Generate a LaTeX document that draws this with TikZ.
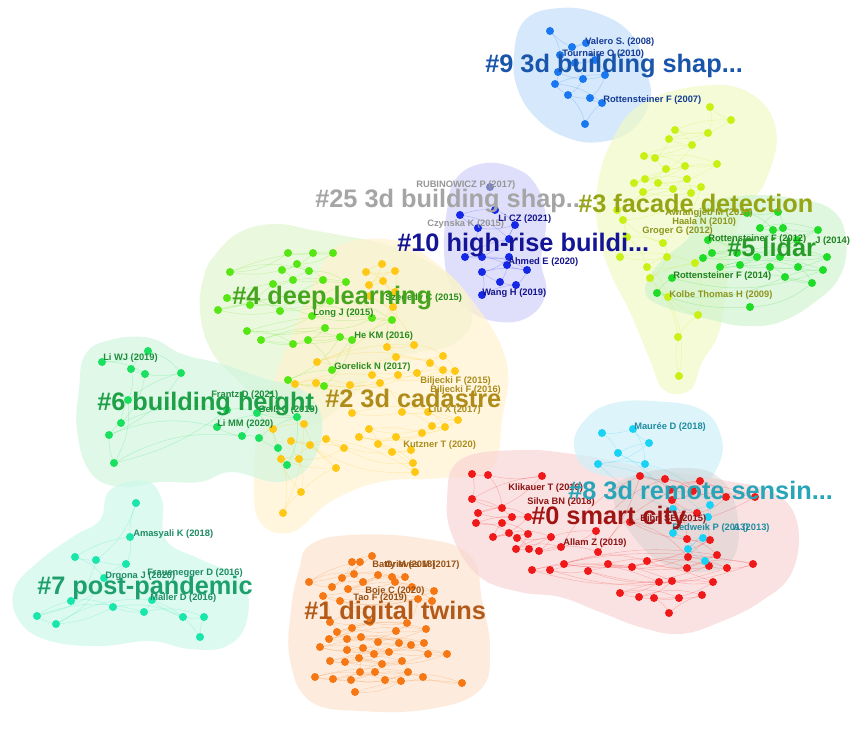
\documentclass[tikz,border=0pt]{standalone}
\usepackage{fontspec}
\setmainfont{Liberation Sans}
% dot colours
\definecolor{c9}{RGB}{25,120,240}
\definecolor{c3}{RGB}{200,240,20}
\definecolor{c5}{RGB}{30,220,40}
\definecolor{c10}{RGB}{20,40,230}
\definecolor{c4}{RGB}{85,230,20}
\definecolor{c2}{RGB}{255,200,20}
\definecolor{c6}{RGB}{25,225,95}
\definecolor{c7}{RGB}{25,230,170}
\definecolor{c1}{RGB}{245,120,20}
\definecolor{c0}{RGB}{240,25,25}
\definecolor{c8}{RGB}{25,210,245}
\definecolor{c25}{RGB}{120,130,200}
% hull colours
\definecolor{h9}{RGB}{195,222,250}
\definecolor{h3}{RGB}{240,250,195}
\definecolor{h5}{RGB}{208,243,208}
\definecolor{h10}{RGB}{208,208,250}
\definecolor{h4}{RGB}{225,245,205}
\definecolor{h2}{RGB}{255,242,205}
\definecolor{h6}{RGB}{208,245,222}
\definecolor{h7}{RGB}{205,248,234}
\definecolor{h1}{RGB}{253,228,205}
\definecolor{h0}{RGB}{250,213,213}
\definecolor{h8}{RGB}{205,240,250}
% cluster label colours
\definecolor{L9}{RGB}{25,85,170}
\definecolor{L25}{RGB}{165,165,165}
\definecolor{L3}{RGB}{150,165,20}
\definecolor{L10}{RGB}{20,20,150}
\definecolor{L5}{RGB}{40,155,40}
\definecolor{L4}{RGB}{70,165,30}
\definecolor{L2}{RGB}{175,140,25}
\definecolor{L6}{RGB}{30,160,70}
\definecolor{L8}{RGB}{40,165,185}
\definecolor{L0}{RGB}{160,20,20}
\definecolor{L7}{RGB}{30,160,110}
\definecolor{L1}{RGB}{180,90,25}
% small label colours
\definecolor{s9}{RGB}{20,60,150}
\definecolor{s25}{RGB}{150,150,150}
\definecolor{s10}{RGB}{20,20,140}
\definecolor{s3}{RGB}{140,150,30}
\definecolor{s5}{RGB}{30,130,30}
\definecolor{s4}{RGB}{40,140,30}
\definecolor{s2}{RGB}{170,140,30}
\definecolor{s6}{RGB}{30,140,60}
\definecolor{s8}{RGB}{30,140,160}
\definecolor{s0}{RGB}{140,20,20}
\definecolor{s7}{RGB}{30,140,100}
\definecolor{s1}{RGB}{150,80,20}
\tikzset{
  dot/.style={circle,inner sep=0pt,minimum size=6pt,draw=none},
  edge/.style={line width=0.35pt,opacity=0.25},
  hullfill/.style={fill opacity=0.68,draw=none},
  cl/.style={font=\bfseries\fontsize{19}{19}\selectfont,anchor=west,inner sep=0pt},
  lab/.style={font=\bfseries\fontsize{7}{7}\selectfont,anchor=west,inner sep=0pt}
}
% point lists
\def\PnineL{550/31,572/47,586/43,560/55,575/63,595/60,558/72,583/79,605/75,555/84,568/95,590/98,602/103,585/124}
\def\PthreeL{710/107,731/120,675/130,708/133,669/139,692/145,644/156,655/158,666/169,685/166,717/164,634/183,645/179,658/183,687/179,673/189,643/192,691/193,701/187,617/210,623/220,663/243,627/237,620/257,667/257,647/267,695/263,650/278,668/297,698/315,678/337,679/376}
\def\PfiveL{747/213,778/212,760/228,773/230,783/228,818/230,797/240,708/240,712/253,703/258,737/253,757/257,780/257,827/257,720/267,740/265,770/267,798/267,823/270,785/277,812/283,672/278,657/293,750/307}
\def\PtenL{495/210,460/215,478/228,515/225,509/239,465/257,482/257,509/257,507/265,527/270,482/272,500/282,516/285,482/295}
\def\PtwfL{490/187}
\def\PfourL{288/253,313/253,333/253,230/272,282/270,297/264,309/271,293/280,323/280,346/282,273/284,227/298,250/305,218/310,280/311,330/301,312/316,372/318,392/320,247/331,325/328,261/340,293/344,308/340,340/337,352/340,332/370,288/380,324/386}
\def\PtwoL{382/264,366/272,395/271,369/285,383/281,395/292,370/296,393/307,387/347,414/345,317/362,396/357,443/356,430/363,443/370,455/371,417/373,398/375,372/375,295/384,316/383,380/383,350/385,352/413,402/412,428/412,458/420,432/426,445/427,422/433,369/429,359/437,396/437,378/444,392/452,411/450,413/463,415/472,326/439,344/448,310/445,291/441,299/459,281/459,336/468,301/492,283/513,304/424,273/429}
\def\PsixL{102/362,148/351,131/369,145/374,181/373,128/400,121/423,109/435,114/463,227/410,217/427,242/436,257/413,297/417,259/438,278/448,287/465}
\def\PsevenL{136/503,130/537,75/557,96/560,126/564,104/578,71/601,37/616,56/624,113/607,144/612,152/600,183/617,204/617,200/637}
\def\PoneL{372/556,352/562,360/562,309/582,332/587,342/578,354/574,363/582,378/575,392/577,405/577,348/589,395/582,412/587,434/591,432/601,323/596,340/601,418/599,330/622,370/622,407/623,337/632,352/628,396/631,426/629,329/639,347/639,361/637,378/642,399/643,411/645,424/643,320/647,347/650,363/648,374/654,389/652,428/654,447/654,330/661,345/662,359/658,382/664,402/661,360/672,375/672,408/672,315/677,333/679,351/680,385/680,401/681,423/677,462/683,355/692}
\def\PzeroL{472/474,488/475,542/476,472/499,502/508,478/513,512/517,528/517,476/523,502/523,493/537,509/533,528/534,517/538,551/537,516/549,529/549,539/551,561/547,596/531,598/552,640/476,665/479,700/481,670/490,693/491,726/497,755/497,672/500,697/513,630/522,687/539,710/540,688/557,717/555,564/564,608/564,632/567,647/561,687/568,709/566,727/568,753/564,532/570,550/570,588/571,659/582,672/581,713/582,620/593,639/597,654/598,679/598,702/595,669/613}
\def\PeightL{602/433,633/429,649/443,618/453,645/464,598/464,673/509,710/505,708/517,673/533,703/538,688/549,705/561}
% named coordinates + faint edges between them
\newcommand\clusteredges[3]{%
  \foreach \xx/\yy [count=\i] in #3 {\coordinate (#1d\i) at (\xx,\yy);}
  \foreach \xx/\yy [count=\i] in #3 {%
    \pgfmathtruncatemacro\jj{\i-1}%
    \pgfmathtruncatemacro\kk{\i-3}%
    \ifnum\jj>0 \draw[edge,#2] (#1d\i) to[bend left=12] (#1d\jj);\fi
    \ifnum\kk>0 \draw[edge,#2] (#1d\i) to[bend right=18] (#1d\kk);\fi
  }}
% dots as named nodes
\newcommand\clusterdots[3]{%
  \foreach \xx/\yy [count=\i] in #3 {\node[dot,fill=#2] (#1d\i) at (\xx,\yy) {};}}
\begin{document}
\begin{tikzpicture}[x=0.75pt,y=-0.75pt]
\useasboundingbox (0,0) rectangle (863,731);
\fill[white] (0,0) rectangle (863,731);
% ---------------- hulls
\fill[h9,hullfill] plot[smooth cycle,tension=0.7] coordinates {(525,20) (560,8) (600,14) (632,35) (646,70) (650,100) (632,130) (600,142) (568,138) (538,120) (518,90) (514,55)};
\fill[h3,hullfill] plot[smooth cycle,tension=0.7] coordinates {(640,105) (700,86) (750,93) (776,130) (766,180) (742,215) (730,260) (725,300) (718,335) (702,362) (690,390) (664,390) (650,360) (630,312) (610,272) (598,230) (597,190) (610,145)};
\fill[h5,hullfill] plot[smooth cycle,tension=0.7] coordinates {(700,208) (740,196) (792,198) (832,210) (846,240) (840,276) (815,302) (780,322) (745,326) (712,320) (662,306) (645,290) (660,262) (688,238)};
\fill[h10,hullfill] plot[smooth cycle,tension=0.7] coordinates {(455,180) (480,164) (512,167) (536,185) (546,220) (541,260) (546,292) (530,316) (500,322) (468,310) (450,285) (444,250) (447,210)};
\fill[h4,hullfill] plot[smooth cycle,tension=0.7] coordinates {(215,255) (240,232) (275,224) (312,230) (345,236) (385,244) (425,260) (460,285) (472,320) (452,345) (420,352) (390,362) (350,398) (312,425) (272,412) (240,382) (212,352) (200,312) (204,276)};
\fill[h2,hullfill] plot[smooth cycle,tension=0.7] coordinates {(340,245) (392,240) (432,260) (472,300) (506,360) (502,420) (490,470) (440,478) (380,482) (330,502) (292,532) (260,522) (254,480) (258,430) (274,380) (298,320) (320,270)};
\fill[h6,hullfill] plot[smooth cycle,tension=0.7] coordinates {(85,355) (110,340) (150,338) (182,354) (222,364) (262,378) (302,390) (322,420) (312,462) (280,482) (232,472) (200,482) (160,482) (120,487) (90,472) (77,430) (79,390)};
\fill[h7,hullfill] plot[smooth cycle,tension=0.7] coordinates {(110,490) (145,481) (162,500) (166,540) (202,560) (242,580) (247,620) (227,646) (190,649) (150,641) (100,646) (50,641) (20,622) (14,590) (38,562) (74,536) (100,520)};
\fill[h1,hullfill] plot[smooth cycle,tension=0.7] coordinates {(310,545) (350,535) (420,538) (470,555) (482,600) (490,650) (480,690) (430,709) (360,711) (310,701) (290,660) (291,610) (299,570)};
\fill[h0,hullfill] plot[smooth cycle,tension=0.7] coordinates {(460,460) (520,450) (580,455) (622,463) (662,470) (722,480) (772,492) (797,522) (792,572) (760,602) (720,622) (680,634) (640,627) (600,612) (560,597) (520,592) (480,577) (454,540) (447,500)};
\fill[h8,hullfill] plot[smooth cycle,tension=0.7] coordinates {(585,420) (610,404) (652,401) (702,410) (722,440) (716,470) (700,480) (640,479) (590,471) (574,445)};
\fill[gray!45,fill opacity=0.35] plot[smooth cycle,tension=0.7] coordinates {(622,480) (682,468) (722,480) (738,520) (732,560) (702,572) (660,562) (630,532) (614,502)};
% ---------------- edges
\clusteredges{k9}{c9}{\PnineL}
\clusteredges{k3}{c3}{\PthreeL}
\clusteredges{k5}{c5}{\PfiveL}
\clusteredges{k10}{c10}{\PtenL}
\clusteredges{k4}{c4}{\PfourL}
\clusteredges{k2}{c2}{\PtwoL}
\clusteredges{k6}{c6}{\PsixL}
\clusteredges{k7}{c7}{\PsevenL}
\clusteredges{k1}{c1}{\PoneL}
\clusteredges{k0}{c0}{\PzeroL}
\clusteredges{k8}{c8}{\PeightL}
% ---------------- dots
\clusterdots{k9}{c9}{\PnineL}
\clusterdots{k3}{c3}{\PthreeL}
\clusterdots{k5}{c5}{\PfiveL}
\clusterdots{k10}{c10}{\PtenL}
\clusterdots{k25}{c25}{\PtwfL}
\clusterdots{k4}{c4}{\PfourL}
\clusterdots{k2}{c2}{\PtwoL}
\clusterdots{k6}{c6}{\PsixL}
\clusterdots{k7}{c7}{\PsevenL}
\clusterdots{k1}{c1}{\PoneL}
\clusterdots{k0}{c0}{\PzeroL}
\clusterdots{k8}{c8}{\PeightL}
% ---------------- small labels
\node[lab,text=s9] (t1) at (585,42) {Valero S. (2008)};
\node[lab,text=s9] (t2) at (562,54) {Tournaire O (2010)};
\node[lab,text=s9] (t3) at (603,100) {Rottensteiner F (2007)};
\node[lab,text=s25] (t4) at (416,185) {RUBINOWICZ P (2017)};
\node[lab,text=s25] (t5) at (427,224) {Czynska K (2015)};
\node[lab,text=s10] (t6) at (498,219) {Li CZ (2021)};
\node[lab,text=s10] (t7) at (508,262) {Ahmed E (2020)};
\node[lab,text=s10] (t8) at (482,293) {Wang H (2019)};
\node[lab,text=s3] (t9) at (665,213) {Awrangjeb M (2010)};
\node[lab,text=s3] (t10) at (672,222) {Haala N (2010)};
\node[lab,text=s3] (t11) at (642,231) {Groger G (2012)};
\node[lab,text=s5] (t12) at (708,239) {Rottensteiner F (2012)};
\node[lab,text=s5] (t13) at (815,241) {J (2014)};
\node[lab,text=s5] (t14) at (673,276) {Rottensteiner F (2014)};
\node[lab,text=s3] (t15) at (669,295) {Kolbe Thomas H (2009)};
\node[lab,text=s4] (t16) at (313,313) {Long J (2015)};
\node[lab,text=s4] (t17) at (354,336) {He KM (2016)};
\node[lab,text=s4] (t18) at (334,367) {Gorelick N (2017)};
\node[lab,text=s4] (t19) at (385,298) {Szegedy C (2015)};
\node[lab,text=s2] (t20) at (420,381) {Biljecki F (2015)};
\node[lab,text=s2] (t21) at (430,390) {Biljecki F (2016)};
\node[lab,text=s2] (t22) at (428,410) {Liu X (2017)};
\node[lab,text=s2] (t23) at (403,445) {Kutzner T (2020)};
\node[lab,text=s6] (t24) at (103,358) {Li WJ (2019)};
\node[lab,text=s6] (t25) at (211,395) {Frantz D (2021)};
\node[lab,text=s6] (t26) at (258,410) {Geiß C (2019)};
\node[lab,text=s6] (t27) at (217,424) {Li MM (2020)};
\node[lab,text=s8] (t28) at (634,427) {Maurée D (2018)};
\node[lab,text=s0] (t29) at (508,488) {Klikauer T (2016)};
\node[lab,text=s0] (t30) at (527,502) {Silva BN (2018)};
\node[lab,text=s0] (t31) at (563,543) {Allam Z (2019)};
\node[lab,text=s0] (t32) at (640,519) {Bibri SE (2015)};
\node[lab,text=s8] (t33) at (672,528) {Redweik P (2013)};
\node[lab,text=s8] (t34) at (733,528) {A (2013)};
\node[lab,text=s7] (t35) at (133,534) {Amasyali K (2018)};
\node[lab,text=s7] (t36) at (105,576) {Drgona J (2020)};
\node[lab,text=s7] (t37) at (147,573) {Frauenegger D (2016)};
\node[lab,text=s7] (t38) at (150,598) {Maller D (2016)};
\node[lab,text=s1] (t39) at (385,565) {Grieves M (2017)};
\node[lab,text=s1] (t40) at (372,565) {Batty M (2018)};
\node[lab,text=s1] (t41) at (365,591) {Boje C (2020)};
\node[lab,text=s1] (t42) at (353,598) {Tao F (2019)};
% ---------------- cluster labels
\node[cl,text=L9] (n9) at (485,66) {\#9 3d building shap...};
\node[cl,text=L25] (n25) at (315,201) {\#25 3d building shap...};
\node[cl,text=L3] (n3) at (578,203) {\#3 facade detection};
\node[cl,text=L10] (n10) at (397,245) {\#10 high-rise buildi...};
\node[cl,text=L5] (n5) at (727,247) {\#5 lidar};
\node[cl,text=L4] (n4) at (232,298) {\#4 deep learning};
\node[cl,text=L6] (n6) at (97,404) {\#6 building height};
\node[cl,text=L2] (n2) at (325,398) {\#2 3d cadastre};
\node[cl,text=L8] (n8) at (568,490) {\#8 3d remote sensin...};
\node[cl,text=L0] (n0) at (531,518) {\#0 smart city};
\node[cl,text=L7] (n7) at (37,588) {\#7 post-pandemic};
\node[cl,text=L1] (n1) at (304,613) {\#1 digital twins};
\end{tikzpicture}
\end{document}
